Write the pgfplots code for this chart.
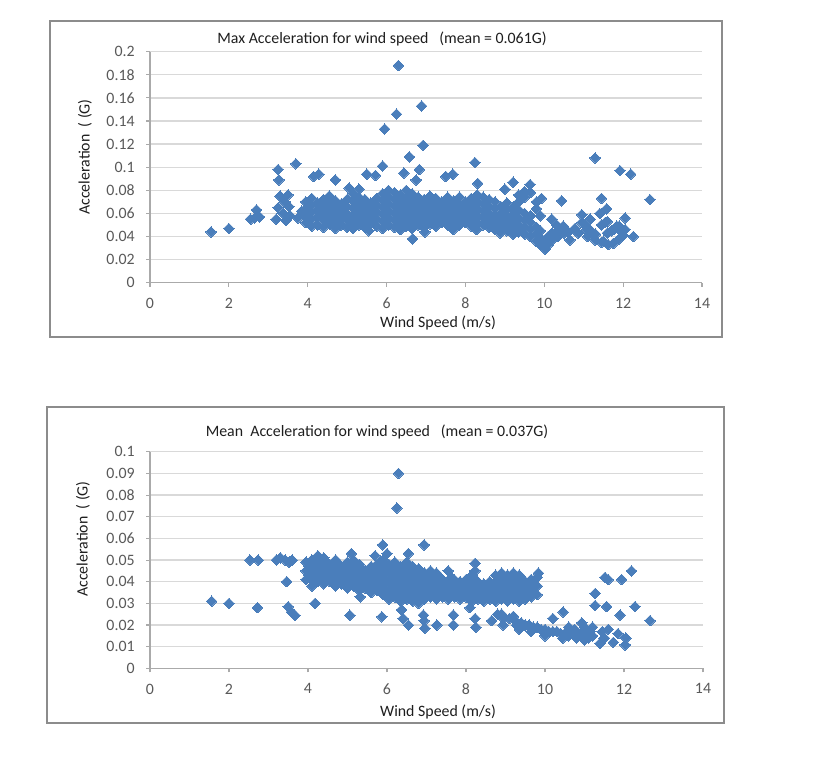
\documentclass[border=0pt]{standalone}
\usepackage{fontspec}
\setmainfont{Carlito}
\usepackage{pgfplots}
\pgfplotsset{compat=1.18}
\definecolor{mk}{RGB}{74,126,187}
\definecolor{gridc}{RGB}{217,217,217}
\definecolor{axc}{RGB}{170,170,170}
\definecolor{tickc}{RGB}{89,89,89}
\definecolor{boxc}{RGB}{140,140,140}
\definecolor{txt}{RGB}{30,30,30}
\pgfplotsset{
 xlstyle/.style={
  scale only axis, xmin=0, xmax=14, xtick={0,2,...,14},
  axis lines=left, axis line style={draw=axc,-,line width=0.8pt},
  ymajorgrids, grid style={draw=gridc,line width=1pt},
  tick style={draw=axc,line width=0.8pt}, tick align=outside, major tick length=3pt,
  ticklabel style={font=\fontsize{11.9}{14}\selectfont, text=tickc},
  /pgf/number format/assume math mode=true,
  scaled y ticks=false,
  yticklabel style={/pgf/number format/fixed,/pgf/number format/precision=2,xshift=-5pt},
  xticklabel style={yshift=-5pt},
  clip=false,
 },
 dm/.style={only marks, mark=square*, mark size=2.8pt, mark options={rotate=45,fill=mk,draw=mk,line width=0pt}},
}
\begin{document}
\begin{tikzpicture}[x=0.75pt,y=0.75pt]
\path[use as bounding box] (0,0) rectangle (815,769);
\draw[boxc,line width=0.9pt] (50,432) rectangle (722,748);
\draw[boxc,line width=0.9pt] (47,46) rectangle (724,362);
% ---------- top ----------
\begin{axis}[xlstyle, at={(112.5pt,364.7pt)}, anchor=south west, width=414pt, height=173.25pt,
  ymin=0, ymax=0.2, ytick={0,0.02,...,0.2}]
\addplot[dm] coordinates {
(1.55,0.044)(2.0,0.047)(2.55,0.055)(2.65,0.056)(2.7,0.063)(2.78,0.057)(3.2,0.055)(3.25,0.098)(3.27,0.089)
(3.3,0.075)(3.25,0.065)(3.38,0.060)(3.42,0.070)(3.5,0.076)(3.52,0.066)(3.55,0.058)(3.45,0.054)(3.7,0.103)
(3.75,0.056)(3.85,0.062)(4.15,0.092)(4.28,0.094)(4.7,0.089)(5.05,0.082)(5.3,0.081)(5.5,0.094)(5.55,0.045)
(5.72,0.093)(5.9,0.101)(5.95,0.133)(6.25,0.146)(6.3,0.188)(6.44,0.095)(6.58,0.109)(6.75,0.089)(6.83,0.098)
(6.89,0.153)(6.93,0.119)(6.66,0.038)(6.97,0.044)(7.5,0.092)(7.68,0.094)(7.69,0.046)(8.24,0.104)(8.31,0.086)
(8.28,0.046)(8.88,0.043)(9.0,0.081)(9.21,0.087)(9.21,0.042)(9.64,0.085)(9.93,0.073)(10.44,0.071)(10.19,0.055)
(10.65,0.037)(11.29,0.108)(11.45,0.073)(11.92,0.097)(12.19,0.094)(12.68,0.072)(12.05,0.056)(12.26,0.040)
(10.95,0.059)(11.16,0.055)(11.41,0.060)(11.58,0.064)(11.54,0.052)(11.84,0.049)(11.96,0.044)(12.05,0.046)
(11.62,0.033)(11.75,0.034)(11.29,0.037)(11.24,0.042)(10.02,0.029)(10.48,0.049)(10.61,0.044)(10.78,0.047)
(10.86,0.043)(11.07,0.046)(10.31,0.050)(11.5,0.036)(11.9,0.038)(12.0,0.041)(11.7,0.045)(11.1,0.040)
(3.95,0.052)(3.95,0.058)(3.95,0.064)(3.95,0.070)
(4.1,0.049)(4.1,0.055)(4.1,0.061)(4.1,0.067)(4.1,0.073)
(4.25,0.050)(4.25,0.057)(4.25,0.063)(4.25,0.069)
(4.4,0.048)(4.4,0.054)(4.4,0.060)(4.4,0.066)(4.4,0.072)
(4.55,0.051)(4.55,0.057)(4.55,0.063)(4.55,0.069)(4.55,0.075)
(4.7,0.047)(4.7,0.053)(4.7,0.059)(4.7,0.065)(4.7,0.071)
(4.85,0.050)(4.85,0.056)(4.85,0.062)(4.85,0.068)
(5.0,0.048)(5.0,0.054)(5.0,0.060)(5.0,0.066)(5.0,0.072)
(5.15,0.047)(5.15,0.053)(5.15,0.059)(5.15,0.065)(5.15,0.071)(5.15,0.077)
(5.3,0.050)(5.3,0.056)(5.3,0.062)(5.3,0.068)(5.3,0.074)
(5.45,0.048)(5.45,0.054)(5.45,0.060)(5.45,0.066)(5.45,0.072)
(5.6,0.051)(5.6,0.057)(5.6,0.063)(5.6,0.069)
(5.75,0.049)(5.75,0.055)(5.75,0.061)(5.75,0.067)(5.75,0.073)
(5.9,0.047)(5.9,0.053)(5.9,0.059)(5.9,0.065)(5.9,0.071)(5.9,0.077)
(6.05,0.050)(6.05,0.056)(6.05,0.062)(6.05,0.068)(6.05,0.074)(6.05,0.080)
(6.2,0.048)(6.2,0.054)(6.2,0.060)(6.2,0.066)(6.2,0.072)(6.2,0.078)
(6.35,0.046)(6.35,0.052)(6.35,0.058)(6.35,0.064)(6.35,0.070)(6.35,0.076)
(6.5,0.049)(6.5,0.055)(6.5,0.061)(6.5,0.067)(6.5,0.073)(6.5,0.080)
(6.65,0.047)(6.65,0.053)(6.65,0.059)(6.65,0.065)(6.65,0.071)(6.65,0.077)
(6.8,0.050)(6.8,0.056)(6.8,0.062)(6.8,0.068)(6.8,0.074)
(6.95,0.048)(6.95,0.054)(6.95,0.060)(6.95,0.066)(6.95,0.072)
(7.1,0.051)(7.1,0.057)(7.1,0.063)(7.1,0.069)(7.1,0.075)
(7.25,0.049)(7.25,0.055)(7.25,0.061)(7.25,0.067)(7.25,0.073)
(7.4,0.052)(7.4,0.058)(7.4,0.064)(7.4,0.070)
(7.55,0.050)(7.55,0.056)(7.55,0.062)(7.55,0.068)(7.55,0.074)
(7.7,0.053)(7.7,0.059)(7.7,0.065)(7.7,0.071)
(7.85,0.050)(7.85,0.056)(7.85,0.062)(7.85,0.068)(7.85,0.074)
(8.0,0.052)(8.0,0.058)(8.0,0.064)(8.0,0.070)
(8.15,0.049)(8.15,0.055)(8.15,0.061)(8.15,0.067)(8.15,0.073)
(8.3,0.052)(8.3,0.058)(8.3,0.064)(8.3,0.070)(8.3,0.076)
(8.45,0.050)(8.45,0.056)(8.45,0.062)(8.45,0.068)(8.45,0.074)
(8.6,0.048)(8.6,0.054)(8.6,0.060)(8.6,0.066)(8.6,0.072)
(8.75,0.046)(8.75,0.052)(8.75,0.058)(8.75,0.064)(8.75,0.070)
(8.9,0.048)(8.9,0.054)(8.9,0.060)(8.9,0.066)
(9.05,0.045)(9.05,0.051)(9.05,0.057)(9.05,0.063)(9.05,0.069)
(9.2,0.047)(9.2,0.053)(9.2,0.059)(9.2,0.065)
(9.35,0.044)(9.35,0.050)(9.35,0.056)(9.35,0.063)(9.35,0.070)(9.35,0.076)
(9.5,0.042)(9.5,0.048)(9.5,0.054)(9.5,0.060)(9.5,0.074)(9.5,0.079)
(9.65,0.040)(9.65,0.046)(9.65,0.052)(9.65,0.058)(9.65,0.078)
(9.8,0.036)(9.8,0.042)(9.8,0.048)(9.8,0.064)(9.8,0.070)
(9.9,0.033)(9.9,0.039)(9.9,0.045)(9.9,0.058)
(10.0,0.034)(10.1,0.033)(10.1,0.040)(10.2,0.037)(10.2,0.043)(10.35,0.040)(10.35,0.045)
(10.5,0.043)(10.8,0.045)(10.95,0.052)(11.05,0.050)(11.15,0.046)(11.3,0.042)(11.45,0.035)(11.45,0.050)
(11.6,0.043)(11.6,0.053)(11.75,0.046)(11.9,0.049)
};
\end{axis}
% ---------- bottom ----------
\begin{axis}[xlstyle, at={(112.5pt,75.5pt)}, anchor=south west, width=414.75pt, height=162.45pt,
  ymin=0, ymax=0.1, ytick={0,0.01,...,0.1}]
\addplot[dm] coordinates {
(1.56,0.031)(2.0,0.030)(2.72,0.028)(2.53,0.050)(2.74,0.050)(3.2,0.050)(3.3,0.051)(3.42,0.050)(3.52,0.049)
(3.6,0.050)(3.46,0.040)(3.5,0.0285)(3.58,0.026)(3.67,0.0245)(4.18,0.030)(5.06,0.0245)(5.32,0.033)(5.1,0.053)
(5.7,0.052)(5.89,0.057)(5.87,0.0238)(6.0,0.053)(6.25,0.074)(6.29,0.090)(6.37,0.027)(6.41,0.023)(6.54,0.020)
(6.54,0.053)(6.92,0.0246)(6.94,0.022)(6.96,0.0185)(6.94,0.057)(7.26,0.020)(7.68,0.0246)(7.68,0.020)
(8.1,0.028)(8.23,0.023)(8.25,0.019)(8.23,0.0485)(8.23,0.045)(8.65,0.022)(8.9,0.025)(8.94,0.020)(9.2,0.024)
(9.28,0.020)(9.83,0.044)(10.46,0.026)(10.2,0.023)(11.52,0.042)(11.6,0.041)(11.94,0.041)(12.19,0.045)
(11.27,0.0346)(11.27,0.029)(11.56,0.0285)(12.28,0.0285)(11.9,0.0246)(12.66,0.022)(11.39,0.0115)
(11.73,0.012)(12.03,0.0108)(10.93,0.021)(10.89,0.016)(11.14,0.017)(11.45,0.017)(11.6,0.018)(11.85,0.016)
(12.05,0.014)(11.5,0.014)
(8.8,0.025)(8.95,0.023)(9.1,0.023)(9.25,0.022)(9.4,0.021)(9.5,0.020)(9.6,0.020)(9.7,0.019)(9.8,0.019)
(9.9,0.018)(10.0,0.018)(10.1,0.017)(10.2,0.017)(10.3,0.017)(10.4,0.016)(10.5,0.016)(10.6,0.015)(10.7,0.016)
(10.8,0.014)(10.9,0.015)(11.0,0.013)(11.1,0.014)(11.2,0.015)(9.35,0.018)(9.65,0.017)(10.0,0.015)(10.45,0.014)
(10.75,0.018)(11.0,0.019)(10.6,0.019)(11.05,0.016)(11.2,0.019)
(3.95,0.041)(3.95,0.045)(3.95,0.049)
(4.1,0.038)(4.1,0.042)(4.1,0.046)(4.1,0.050)
(4.25,0.040)(4.25,0.044)(4.25,0.048)(4.25,0.052)
(4.4,0.039)(4.4,0.043)(4.4,0.047)(4.4,0.051)
(4.55,0.040)(4.55,0.044)(4.55,0.048)
(4.7,0.038)(4.7,0.042)(4.7,0.046)(4.7,0.050)
(4.85,0.039)(4.85,0.043)(4.85,0.047)
(5.0,0.037)(5.0,0.041)(5.0,0.045)(5.0,0.049)
(5.15,0.038)(5.15,0.042)(5.15,0.046)(5.15,0.050)
(5.3,0.036)(5.3,0.040)(5.3,0.044)(5.3,0.048)
(5.45,0.037)(5.45,0.041)(5.45,0.045)
(5.6,0.035)(5.6,0.039)(5.6,0.043)(5.6,0.047)
(5.75,0.036)(5.75,0.040)(5.75,0.044)(5.75,0.048)
(5.9,0.034)(5.9,0.038)(5.9,0.042)(5.9,0.046)(5.9,0.050)
(6.05,0.032)(6.05,0.036)(6.05,0.040)(6.05,0.044)(6.05,0.048)
(6.2,0.033)(6.2,0.037)(6.2,0.041)(6.2,0.045)(6.2,0.049)
(6.35,0.031)(6.35,0.035)(6.35,0.039)(6.35,0.043)(6.35,0.047)
(6.5,0.032)(6.5,0.036)(6.5,0.040)(6.5,0.044)(6.5,0.049)
(6.65,0.031)(6.65,0.035)(6.65,0.039)(6.65,0.043)(6.65,0.047)
(6.8,0.030)(6.8,0.034)(6.8,0.038)(6.8,0.042)(6.8,0.046)
(6.95,0.032)(6.95,0.036)(6.95,0.040)(6.95,0.044)
(7.1,0.033)(7.1,0.037)(7.1,0.041)(7.1,0.045)
(7.25,0.032)(7.25,0.036)(7.25,0.040)(7.25,0.044)
(7.4,0.033)(7.4,0.037)(7.4,0.041)
(7.55,0.032)(7.55,0.036)(7.55,0.040)(7.55,0.045)
(7.7,0.033)(7.7,0.037)(7.7,0.041)
(7.85,0.032)(7.85,0.036)(7.85,0.040)
(8.0,0.033)(8.0,0.037)(8.0,0.041)
(8.15,0.031)(8.15,0.035)(8.15,0.039)(8.15,0.043)
(8.3,0.032)(8.3,0.036)(8.3,0.040)
(8.45,0.031)(8.45,0.035)(8.45,0.039)
(8.6,0.032)(8.6,0.036)(8.6,0.040)
(8.75,0.031)(8.75,0.035)(8.75,0.039)(8.75,0.043)
(8.9,0.032)(8.9,0.036)(8.9,0.040)(8.9,0.044)
(9.05,0.031)(9.05,0.035)(9.05,0.039)(9.05,0.043)
(9.2,0.032)(9.2,0.036)(9.2,0.040)(9.2,0.044)
(9.35,0.031)(9.35,0.035)(9.35,0.039)(9.35,0.043)
(9.5,0.032)(9.5,0.036)(9.5,0.040)
(9.65,0.033)(9.65,0.037)(9.65,0.041)
(9.8,0.034)(9.8,0.038)(9.8,0.042)
(4.025,0.043)(4.025,0.047)
(4.175,0.040)(4.175,0.044)(4.175,0.048)
(4.325,0.042)(4.325,0.046)(4.325,0.050)
(4.475,0.041)(4.475,0.045)(4.475,0.049)
(4.625,0.042)(4.625,0.046)
(4.775,0.040)(4.775,0.044)(4.775,0.048)
(4.925,0.041)(4.925,0.045)
(5.075,0.039)(5.075,0.043)(5.075,0.047)
(5.225,0.040)(5.225,0.044)(5.225,0.048)
(5.375,0.038)(5.375,0.042)(5.375,0.046)
(5.525,0.039)(5.525,0.043)
(5.675,0.037)(5.675,0.041)(5.675,0.045)
(5.825,0.038)(5.825,0.042)(5.825,0.046)
(5.975,0.036)(5.975,0.040)(5.975,0.044)(5.975,0.048)
(6.125,0.034)(6.125,0.038)(6.125,0.042)(6.125,0.046)
(6.275,0.035)(6.275,0.039)(6.275,0.043)(6.275,0.047)
(6.425,0.033)(6.425,0.037)(6.425,0.041)(6.425,0.045)
(6.575,0.034)(6.575,0.038)(6.575,0.042)(6.575,0.046)
(6.725,0.033)(6.725,0.037)(6.725,0.041)(6.725,0.045)
(6.875,0.032)(6.875,0.036)(6.875,0.040)(6.875,0.044)
(7.025,0.034)(7.025,0.038)(7.025,0.042)
(7.175,0.035)(7.175,0.039)(7.175,0.043)
(7.325,0.034)(7.325,0.038)(7.325,0.042)
(7.475,0.035)(7.475,0.039)
(7.625,0.034)(7.625,0.038)(7.625,0.042)
(7.775,0.035)(7.775,0.039)
(7.925,0.034)(7.925,0.038)
(8.075,0.035)(8.075,0.039)
(8.225,0.033)(8.225,0.037)(8.225,0.041)
(8.375,0.034)(8.375,0.038)
(8.525,0.033)(8.525,0.037)
(8.675,0.034)(8.675,0.038)
(8.825,0.033)(8.825,0.037)(8.825,0.041)
(8.975,0.034)(8.975,0.038)(8.975,0.042)
(9.125,0.033)(9.125,0.037)(9.125,0.041)
(9.275,0.034)(9.275,0.038)(9.275,0.042)
(9.425,0.033)(9.425,0.037)(9.425,0.041)
(9.575,0.034)(9.575,0.038)
(9.725,0.035)(9.725,0.039)
};
\end{axis}
% ---------- texts ----------
\begin{scope}[every node/.style={font=\fontsize{11.9}{14}\selectfont, text=txt, inner sep=0pt}]
\node at (382,730) {Max Acceleration for wind speed\ \ \ (mean = 0.061G)};
\node at (377,337) {Mean\ \ Acceleration for wind speed\ \ \ (mean = 0.037G)};
\node at (438,446) {Wind Speed (m/s)};
\node at (438,57) {Wind Speed (m/s)};
\node[rotate=90] at (85,612) {Acceleration\ \ ( (G)};
\node[rotate=90] at (83,230) {Acceleration\ \ ( (G)};
\end{scope}
\end{tikzpicture}
\end{document}
